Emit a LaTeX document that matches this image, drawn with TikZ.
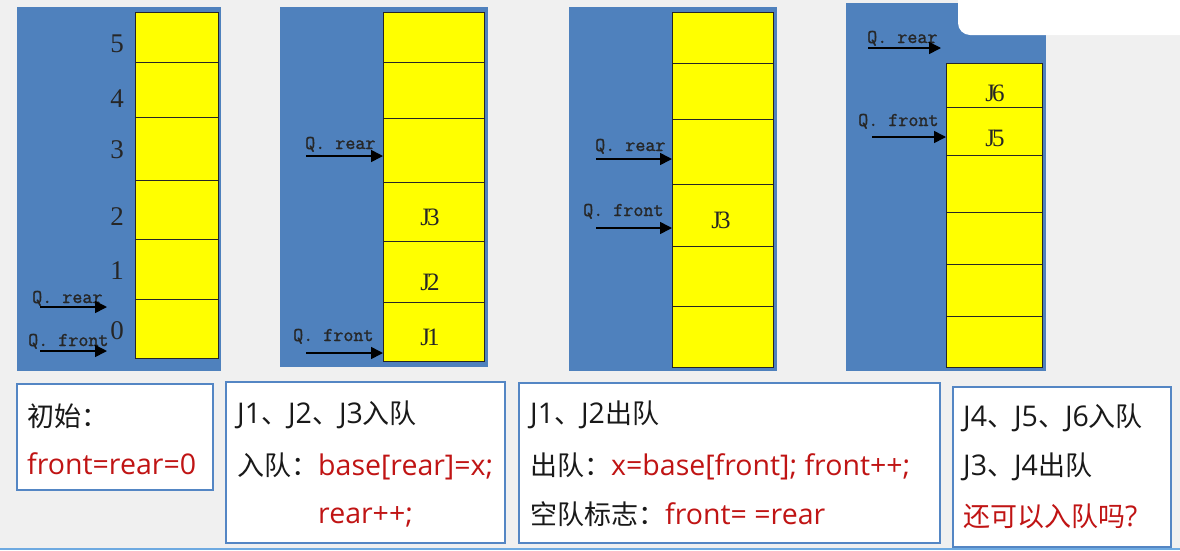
\documentclass[tikz,border=0pt]{standalone}
\usepackage{fontspec}
\usetikzlibrary{arrows.meta}
\setmainfont{Open Sans}
\newfontfamily\cjk{Noto Sans CJK SC}
\newfontfamily\tms{Liberation Serif}
\newfontfamily\qmono[FakeBold=1.3]{Latin Modern Mono}
\definecolor{bggray}{RGB}{240,240,240}
\definecolor{panelblue}{RGB}{79,129,189}
\definecolor{boxblue}{RGB}{84,134,196}
\definecolor{qyellow}{RGB}{255,255,0}
\definecolor{qred}{RGB}{192,20,20}
\definecolor{lineblue}{RGB}{110,170,225}
\newcommand\zh[1]{{\cjk\fontsize{27}{27}\selectfont #1}}
\tikzset{
  panel/.style={fill=panelblue, draw=none},
  cellbox/.style={fill=qyellow, draw=black!85, line width=1pt},
  ptr/.style={line width=1.6pt, -{Triangle[length=12pt,width=12pt]}},
  ptrlabel/.style={font=\qmono\fontsize{19.5}{19.5}\selectfont, anchor=base west, inner sep=0pt, text=black!85},
  idx/.style={font=\tms\fontsize{27}{27}\selectfont, inner sep=0pt, text=black!85},
  jlab/.style={font=\tms\fontsize{25}{25}\selectfont, inner sep=0pt, text=black!85},
  infobox/.style={fill=white, draw=boxblue, line width=1.8pt},
  btext/.style={font=\fontsize{28.5}{28.5}\selectfont, anchor=base west, inner sep=0pt, text=black!90},
  rtext/.style={btext, text=qred}
}
\newcommand\qcolumn[5]{% #1 xleft, #2 xright, #3 ytop, #4 inner lines, #5 ybottom
  \draw[cellbox] (#1,#3) rectangle (#2,#5);
  \foreach \yy in {#4} { \draw[black!85, line width=1pt] (#1,\yy) -- (#2,\yy); }
}
\begin{document}
\begin{tikzpicture}[x=1pt,y=-1pt]
\useasboundingbox (0,0) rectangle (1180,550);
\fill[bggray] (0,0) rectangle (1180,550);
\draw[lineblue, line width=2pt] (0,549) -- (1180,549);

% ---------- panel 1 ----------
\fill[panel] (17,7) rectangle (221,371);
\qcolumn{135}{218}{12}{62,117,180,239,299}{358}
\node[idx] (i5) at (117,44) {5};
\node[idx] (i4) at (117,99) {4};
\node[idx] (i3) at (117,150) {3};
\node[idx] (i2) at (117,217) {2};
\node[idx] (i1) at (117,271) {1};
\node[idx] (i0) at (117,331) {0};
\node[ptrlabel] (r1) at (32,303) {Q. rear};
\coordinate (r1s) at (40,307); \coordinate (r1e) at (107,307);
\draw[ptr] (r1s) -- (r1e);
\node[ptrlabel] (f1) at (28,346) {Q. front};
\coordinate (f1s) at (40,351); \coordinate (f1e) at (107,351);
\draw[ptr] (f1s) -- (f1e);

% ---------- panel 2 ----------
\fill[panel] (280,7) rectangle (488,367);
\qcolumn{383}{484}{12}{62,118,182,241,302}{361}
\node[jlab] (j3a) at (430,217) {J\kern-3pt3};
\node[jlab] (j2a) at (430,282) {J\kern-3pt2};
\node[jlab] (j1a) at (430,337) {J\kern-3pt1};
\node[ptrlabel] (r2) at (305,149) {Q. rear};
\coordinate (r2s) at (306,156); \coordinate (r2e) at (383,156);
\draw[ptr] (r2s) -- (r2e);
\node[ptrlabel] (f2) at (293,341) {Q. front};
\coordinate (f2s) at (306,353); \coordinate (f2e) at (383,353);
\draw[ptr] (f2s) -- (f2e);

% ---------- panel 3 ----------
\fill[panel] (569,7) rectangle (777,371);
\qcolumn{672}{773}{12}{63,119,184,246,306}{367}
\node[jlab] (j3b) at (721,220) {J\kern-3pt3};
\node[ptrlabel] (r3) at (595,151) {Q. rear};
\coordinate (r3s) at (596,159); \coordinate (r3e) at (672,159);
\draw[ptr] (r3s) -- (r3e);
\node[ptrlabel] (f3) at (583,216) {Q. front};
\coordinate (f3s) at (596,228); \coordinate (f3e) at (672,228);
\draw[ptr] (f3s) -- (f3e);

% ---------- panel 4 ----------
\fill[panel] (846,3) rectangle (1046,371);
\qcolumn{946}{1042}{63}{107,155,212,264,316}{367}
\node[jlab] (j6) at (995,93) {J\kern-3pt6};
\node[jlab] (j5) at (995,138) {J\kern-3pt5};
\node[ptrlabel] (r4) at (867,43) {Q. rear};
\coordinate (r4s) at (868,48); \coordinate (r4e) at (941,48);
\draw[ptr] (r4s) -- (r4e);
\node[ptrlabel] (f4) at (858,126) {Q. front};
\coordinate (f4s) at (872,137); \coordinate (f4e) at (946,137);
\draw[ptr] (f4s) -- (f4e);

% white tab at top right
\fill[white, rounded corners=12pt] (958,-20) rectangle (1200,35);

% ---------- text boxes ----------
\draw[infobox] (17,384) rectangle (213,490);
\node[btext] (t1a) at (27,426) {\zh{初始：}};
\node[rtext] (t1b) at (27,474) {front=rear=0};

\draw[infobox] (226,382) rectangle (505,543);
\node[btext] (t2a) at (237,423) {J1\zh{、}J2\zh{、}J3\zh{入队}};
\node[btext] (t2b) at (237,475) {\zh{入队：}\textcolor{qred}{base[rear]=x;}};
\node[rtext] (t2d) at (318,523) {rear++;};

\draw[infobox] (519,383) rectangle (940,543);
\node[btext] (t3a) at (530,423) {J1\zh{、}J2\zh{出队}};
\node[btext] (t3b) at (530,475) {\zh{出队：}\textcolor{qred}{x=base[front]; front++;}};
\node[btext] (t3d) at (530,524) {\zh{空队标志：}\textcolor{qred}{front= =rear}};

\draw[infobox] (953,387) rectangle (1171,547);
\node[btext] (t4a) at (963,426) {J4\zh{、}J5\zh{、}J6\zh{入队}};
\node[btext] (t4b) at (963,475) {J3\zh{、}J4\zh{出队}};
\node[rtext] (t4c) at (963,526) {\zh{还可以入队吗}?};
\end{tikzpicture}
\end{document}
